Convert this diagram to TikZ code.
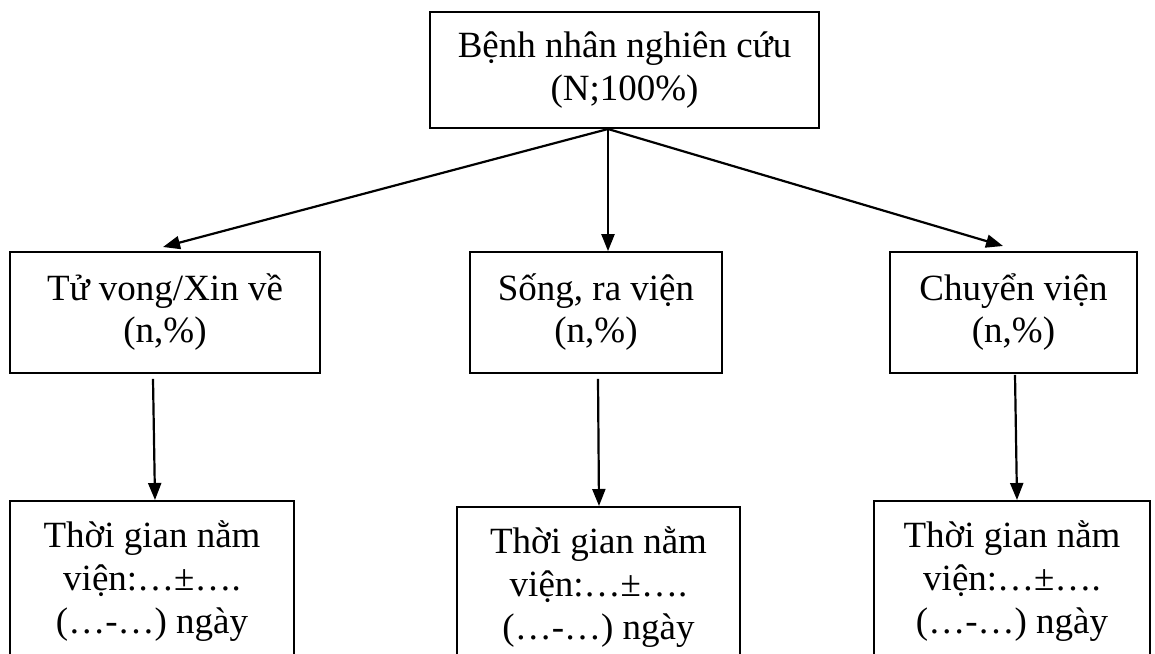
\documentclass[tikz,border=0pt]{standalone}
\usepackage{fontspec}
\setmainfont{Liberation Serif}
\usetikzlibrary{arrows.meta}
\tikzset{
  boxnode/.style={draw=black, line width=1.7pt, align=center, inner sep=0pt,
    font=\fontsize{37}{42}\selectfont},
  textnode/.style={align=center, anchor=north, inner sep=0pt,
    font=\fontsize{37}{43}\selectfont},
  arr/.style={-{Triangle[length=17pt,width=13pt]}, line width=2.2pt},
}
\newcommand{\toprule}{\rule{0pt}{40pt}}
\begin{document}
\begin{tikzpicture}[x=1pt,y=-1pt]
\useasboundingbox (0,0) rectangle (1155,653);
\clip (0,0) rectangle (1155,653);
% top
\node[boxnode, minimum width=389pt, minimum height=116pt, font=\fontsize{37}{43}\selectfont] (top) at (624.5,70) {Bệnh nhân nghiên cứu\\(N;100\%)};
% middle row
\node[boxnode, minimum width=310pt, minimum height=121pt] (m1) at (165,312.5) {Tử vong/Xin về\\(n,\%)};
\node[boxnode, minimum width=252pt, minimum height=121pt] (m2) at (596,312.5) {Sống, ra viện\\(n,\%)};
\node[boxnode, minimum width=247pt, minimum height=121pt] (m3) at (1013.5,312.5) {Chuyển viện\\(n,\%)};
% bottom row (cut by the page edge)
\node[boxnode, minimum width=284pt, minimum height=200pt, anchor=north] (b1) at (152,500) {};
\node[boxnode, minimum width=283pt, minimum height=200pt, anchor=north] (b2) at (598.5,506) {};
\node[boxnode, minimum width=276pt, minimum height=200pt, anchor=north] (b3) at (1012,500) {};
\node[textnode] (t1) at ([yshift=-7pt]b1.north) {\toprule Thời gian nằm\\viện:…±….\\(…-…) ngày};
\node[textnode] (t2) at ([yshift=-7pt]b2.north) {\toprule Thời gian nằm\\viện:…±….\\(…-…) ngày};
\node[textnode] (t3) at ([yshift=-7pt]b3.north) {\toprule Thời gian nằm\\viện:…±….\\(…-…) ngày};
% connectors
\coordinate (s) at (608,129);
\draw[arr] (s) -- (163,247);
\draw[arr] (s) -- (m2.north -| s);
\draw[arr] (s) -- (1003,246);
\draw[arr] ([xshift=-12pt,yshift=-5pt]m1.south) -- ([xshift=3pt]b1.north);
\draw[arr] ([xshift=2pt,yshift=-5pt]m2.south) -- ([xshift=0.5pt]b2.north);
\draw[arr] ([xshift=1.5pt,yshift=-1pt]m3.south) -- ([xshift=5pt]b3.north);
\end{tikzpicture}
\end{document}
